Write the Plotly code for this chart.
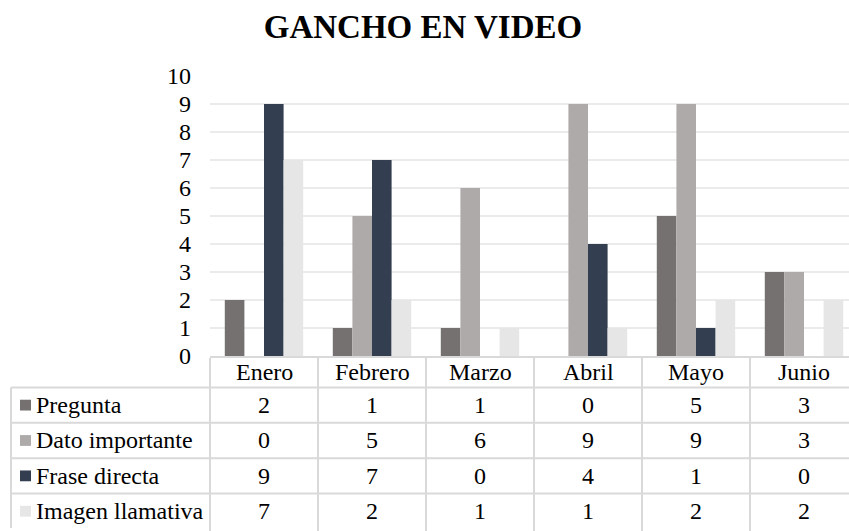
import plotly.graph_objects as go

# ---- data ----
months = ["Enero", "Febrero", "Marzo", "Abril", "Mayo", "Junio"]
series_names = ["Pregunta", "Dato importante", "Frase directa", "Imagen llamativa"]
pregunta = [2, 1, 1, 0, 5, 3]
dato_importante = [0, 5, 6, 9, 9, 3]
frase_directa = [9, 7, 0, 4, 1, 0]
imagen_llamativa = [7, 2, 1, 1, 2, 2]
y_ticks = list(range(0, 11))

series_values = [pregunta, dato_importante, frase_directa, imagen_llamativa]
colors = ["#767171", "#AEAAAA", "#333F50", "#E7E6E6"]

# ---- geometry (pixels) ----
W, H = 849, 531
M_L, M_R, M_T, M_B = 210, 0, 76, 170
PLOT_W = W - M_L - M_R
PLOT_H = H - M_T - M_B
CAT_W = 108.0
FONT = "Liberation Serif"
LINE_C = "#d9d9d9"


def px_x(px):
    return (px - M_L) / PLOT_W


def px_y(py):
    return (H - M_B - py) / PLOT_H


fig = go.Figure()
for name, vals, col in zip(series_names, series_values, colors):
    fig.add_trace(go.Bar(
        x=months, y=vals, name=name,
        marker=dict(color=col, line=dict(width=0)),
        showlegend=False, hoverinfo="x+y+name",
    ))

shapes = []
annotations = []

# data table: horizontal row rules and left border
row_lines = [393, 429, 465, 501]
for ry in row_lines:
    shapes.append(dict(type="line", xref="paper", yref="paper",
                       x0=px_x(11), x1=1, y0=px_y(ry), y1=px_y(ry),
                       line=dict(color=LINE_C, width=2)))
shapes.append(dict(type="line", xref="paper", yref="paper",
                   x0=px_x(11), x1=px_x(11), y0=px_y(393), y1=px_y(H + 5),
                   line=dict(color=LINE_C, width=2)))

# header row: month names
header_y = px_y(377.5)
for m in months:
    annotations.append(dict(x=m, xref="x", y=header_y, yref="paper",
                            text=m, showarrow=False, xanchor="center",
                            yanchor="middle",
                            font=dict(family=FONT, size=24, color="#000")))

# body rows: legend key, series name and values
row_centers = [411, 447, 483, 519]
for name, vals, col, cy in zip(series_names, series_values, colors, row_centers):
    yc = px_y(cy)
    shapes.append(dict(type="rect", xref="paper", yref="paper",
                       x0=px_x(20), x1=px_x(31),
                       y0=px_y(cy + 5.5), y1=px_y(cy - 5.5),
                       fillcolor=col, line=dict(width=0)))
    annotations.append(dict(x=px_x(34), xref="paper", y=yc, yref="paper",
                            text=name, showarrow=False, xanchor="left",
                            yanchor="middle",
                            font=dict(family=FONT, size=24, color="#000")))
    for m, v in zip(months, vals):
        annotations.append(dict(x=m, xref="x", y=yc, yref="paper",
                                text=str(v), showarrow=False,
                                xanchor="center", yanchor="middle",
                                font=dict(family=FONT, size=24, color="#000")))

fig.update_layout(
    width=W, height=H,
    margin=dict(l=M_L, r=M_R, t=M_T, b=M_B, pad=0),
    paper_bgcolor="white", plot_bgcolor="white",
    barmode="group", bargap=0.274, bargroupgap=0,
    title=dict(text="<b>GANCHO EN VIDEO</b>", x=423 / W, xref="container",
               xanchor="center", y=1 - 26.5 / H, yref="container",
               yanchor="middle",
               font=dict(family=FONT, size=33, color="#000")),
    xaxis=dict(
        type="category", categoryorder="array", categoryarray=months,
        range=[-0.5, -0.5 + PLOT_W / CAT_W],
        showgrid=False, zeroline=False,
        showline=True, linecolor=LINE_C, linewidth=2,
        ticks="outside", tickson="boundaries", ticklen=M_B + 5,
        tickcolor=LINE_C, tickwidth=2,
        showticklabels=False, fixedrange=True,
    ),
    yaxis=dict(
        range=[0, 10], tickmode="array", tickvals=y_ticks,
        ticktext=[str(t) for t in y_ticks],
        showgrid=True, gridcolor="#ebebeb", gridwidth=1.5,
        zeroline=False, showline=False, ticks="",
        ticklabelstandoff=18,
        tickfont=dict(family=FONT, size=24, color="#000"),
        fixedrange=True,
    ),
    shapes=shapes,
    annotations=annotations,
)

fig.write_html("out.html")
